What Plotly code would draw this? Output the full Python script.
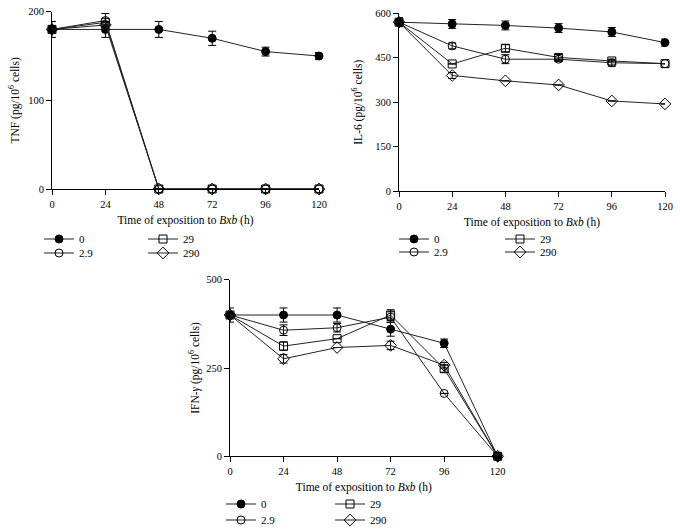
import plotly.graph_objects as go

times = [0, 24, 48, 72, 96, 120]
doses = ["0", "2.9", "29", "290"]

# TNF
tnf_0 = [180, 180, 180, 170, 155, 150]
tnf_2_9 = [180, 190, 0, 0, 0, 0]
tnf_29 = [180, 188, 0, 0, 0, 0]
tnf_290 = [180, 185, 0, 0, 0, 0]
tnf_0_err = [9, 9, 9, 8, 5, 4]
tnf_2_9_err = [0, 8, 0, 0, 0, 0]
tnf_29_err = [0, 0, 0, 0, 0, 0]
tnf_290_err = [0, 0, 0, 0, 0, 0]

# IL-6
il6_0 = [570, 564, 559, 550, 537, 501]
il6_2_9 = [570, 490, 445, 445, 433, 430]
il6_29 = [570, 429, 482, 451, 439, 430]
il6_290 = [570, 390, 372, 358, 304, 294]
il6_0_err = [15, 15, 15, 15, 15, 12]
il6_2_9_err = [0, 10, 15, 0, 12, 0]
il6_29_err = [0, 0, 12, 10, 0, 0]
il6_290_err = [0, 10, 0, 0, 0, 0]

# IFN-gamma
ifn_0 = [400, 400, 400, 360, 320, 0]
ifn_2_9 = [400, 357, 364, 394, 178, 0]
ifn_29 = [400, 312, 333, 400, 248, 0]
ifn_290 = [400, 276, 308, 314, 258, 0]
ifn_0_err = [20, 20, 20, 20, 12, 0]
ifn_2_9_err = [0, 15, 12, 15, 0, 0]
ifn_29_err = [0, 12, 0, 15, 10, 0]
ifn_290_err = [0, 12, 0, 12, 8, 0]

FONT = "Liberation Serif"
W, H = 680, 531

styles = {
    "0": dict(symbol="circle", color="black", size=8),
    "2.9": dict(symbol="circle-open", color="black", size=8),
    "29": dict(symbol="square-open", color="black", size=8),
    "290": dict(symbol="diamond-open", color="black", size=9),
}

panels = [
    dict(series=[tnf_0, tnf_2_9, tnf_29, tnf_290],
         errs=[tnf_0_err, tnf_2_9_err, tnf_29_err, tnf_290_err],
         dom_px=(52, 319, 11.7, 189), yrange=[0, 200], ytick=[0, 100, 200],
         ytitle="TNF (pg/10<sup>6</sup> cells)", ystand=6,
         leg=[(39, 239), (39, 253), (143, 239), (143, 253)]),
    dict(series=[il6_0, il6_2_9, il6_29, il6_290],
         errs=[il6_0_err, il6_2_9_err, il6_29_err, il6_290_err],
         dom_px=(399, 665, 13.3, 191), yrange=[0, 600], ytick=[0, 150, 300, 450, 600],
         ytitle="IL-6 (pg/10<sup>6</sup> cells)", ystand=10,
         leg=[(394, 239), (394, 252), (500, 239), (500, 252)]),
    dict(series=[ifn_0, ifn_2_9, ifn_29, ifn_290],
         errs=[ifn_0_err, ifn_2_9_err, ifn_29_err, ifn_290_err],
         dom_px=(230, 497.7, 279.7, 456.3), yrange=[0, 500], ytick=[0, 250, 500],
         ytitle="IFN-<i>γ</i> (pg/10<sup>6</sup> cells)", ystand=4,
         leg=[(221, 504), (221, 520), (330, 504), (330, 520)]),
]

fig = go.Figure()
layout = dict(
    width=W, height=H, margin=dict(l=0, r=0, t=0, b=0, autoexpand=False),
    paper_bgcolor="white", plot_bgcolor="white",
    font=dict(family=FONT, size=11, color="black"),
    showlegend=True,
)

leg_n = 0
for pi, p in enumerate(panels):
    ax = "" if pi == 0 else str(pi + 1)
    x0, x1, y0, y1 = p["dom_px"]
    axis_common = dict(
        showline=True, linecolor="black", linewidth=1, ticks="outside",
        ticklen=5, tickcolor="black", tickwidth=1, showgrid=False, zeroline=False,
        automargin=False,
        tickfont=dict(family=FONT, size=10.5, color="black"),
    )
    layout["xaxis" + ax] = dict(
        domain=[x0 / W, x1 / W], range=[0, 120], tickvals=times,
        anchor="y" + ax,
        title=dict(text="Time of exposition to <i>Bxb</i> (h)", standoff=7,
                   font=dict(family=FONT, size=11.5)),
        **axis_common)
    layout["yaxis" + ax] = dict(
        domain=[1 - y1 / H, 1 - y0 / H], range=p["yrange"], tickvals=p["ytick"],
        anchor="x" + ax,
        title=dict(text=p["ytitle"], standoff=p["ystand"], font=dict(family=FONT, size=11.5)),
        **axis_common)
    for si, (vals, err, dose) in enumerate(zip(p["series"], p["errs"], doses)):
        leg_n += 1
        lname = "legend" if leg_n == 1 else f"legend{leg_n}"
        st = styles[dose]
        fig.add_trace(go.Scatter(
            x=times, y=vals, name=dose, mode="lines+markers",
            xaxis="x" + ax, yaxis="y" + ax, legend=lname, cliponaxis=False,
            line=dict(color="#222", width=1),
            marker=dict(symbol=st["symbol"], size=st["size"], color=st["color"],
                        line=dict(color="black", width=1)),
            error_y=dict(type="data", array=err, visible=True, color="black",
                         thickness=1, width=4),
        ))
        lx, ly = p["leg"][si]
        layout[lname] = dict(
            x=lx / W, y=1 - ly / H, xanchor="left", yanchor="middle",
            orientation="v", bgcolor="rgba(0,0,0,0)", borderwidth=0,
            font=dict(family=FONT, size=11, color="black"),
        )

fig.update_layout(**layout)
fig.write_html("out.html", post_script="document.body.style.margin='0';",
               config={"displayModeBar": False})
